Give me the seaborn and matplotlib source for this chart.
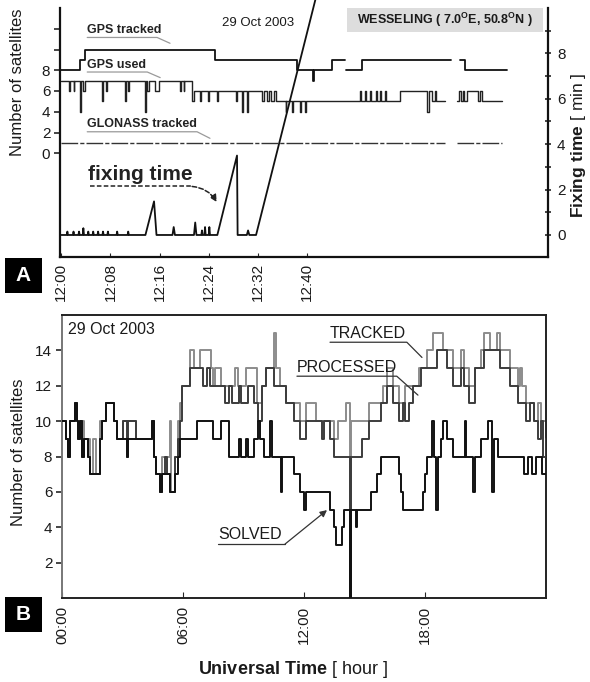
import numpy as np
import pandas as pd
import matplotlib
matplotlib.use('Agg')
import matplotlib.pyplot as plt
import seaborn as sns
from matplotlib.patches import Rectangle

# ---------------- Panel A : minutes after 12:00 UT ----------------
# GPS tracked (left axis, satellites), three pieces with data gaps
gps_tracked_1 = [(0, 8), (3.1, 9), (3.8, 10), (25.0, 9), (38.4, 8), (41.0, 7), (41.2, 8), (44.1, 9), (46.1, 9)]
gps_tracked_2 = [(46.3, 8), (49.0, 9), (63.4, 9)]
gps_tracked_3 = [(64.9, 9), (65.7, 8), (72.5, 8)]

# GPS used (left axis)
gps_used_1 = [(0, 7), (1.2, 6), (1.35, 7), (2.0, 6), (2.15, 7), (3.1, 4), (3.25, 7), (3.6, 6), (3.9, 7),
              (6.6, 5), (6.75, 7), (7.3, 6), (7.5, 7), (10.4, 5), (10.55, 7), (10.9, 6), (11.1, 7),
              (13.7, 4), (13.85, 7), (14.0, 6), (14.2, 7), (15.3, 6), (15.9, 7), (19.3, 6), (19.45, 7),
              (19.9, 6), (20.05, 7), (21.2, 5), (21.6, 6), (22.6, 5), (22.75, 6), (23.9, 5), (24.05, 6),
              (25.4, 5), (25.55, 6), (28.4, 5), (28.55, 6), (29.4, 4), (29.55, 6), (30.2, 4), (30.35, 6),
              (32.6, 5), (33.0, 6), (33.4, 5), (33.8, 6), (34.2, 5), (34.6, 6), (35.0, 5), (36.5, 4),
              (36.65, 5), (37.6, 4), (37.75, 5), (38.8, 4), (38.95, 5), (39.6, 4), (39.75, 5), (48.6, 6),
              (48.8, 5), (49.4, 6), (49.6, 5), (50.2, 6), (50.4, 5), (51.2, 6), (51.4, 5), (51.8, 6),
              (52.0, 5), (52.6, 6), (52.8, 5), (55.1, 6), (59.5, 4), (59.8, 6), (60.3, 5), (60.8, 6),
              (61.0, 5), (62.4, 5)]
gps_used_2 = [(64.4, 5), (64.8, 6), (65.0, 5), (65.4, 6), (65.6, 5), (66.0, 6), (67.8, 5), (68.2, 6),
              (68.4, 5), (71.7, 5)]

# GLONASS tracked (left axis)
glonass_1 = [(0, 1), (62.4, 1)]
glonass_2 = [(64.4, 1), (71.7, 1)]

# fixing time (right axis, minutes)
fixing_time = [(0, 0), (0.9, 0), (1.0, 0.15), (1.1, 0), (1.9, 0), (2.0, 0.15), (2.1, 0), (2.8, 0),
               (2.9, 0.15), (3.0, 0), (3.5, 0), (3.6, 0.3), (3.7, 0), (4.3, 0), (4.4, 0.15), (4.5, 0),
               (5.1, 0), (5.2, 0.15), (5.3, 0), (5.9, 0), (6.0, 0.15), (6.1, 0), (6.7, 0), (6.8, 0.15),
               (6.9, 0), (7.5, 0), (7.6, 0.15), (7.7, 0), (9.0, 0), (9.1, 0.15), (9.2, 0), (10.8, 0),
               (10.9, 0.15), (11.0, 0), (13.7, 0), (15.1, 1.48), (15.5, 0), (18.1, 0), (18.3, 0.35),
               (18.5, 0), (21.6, 0), (21.8, 0.55), (22.0, 0), (22.8, 0), (22.9, 0.2), (23.0, 0),
               (23.3, 0), (23.4, 0.35), (23.5, 0), (24.0, 0), (24.1, 0.35), (24.2, 0), (25.4, 0),
               (28.6, 3.5), (28.7, 0), (30.2, 0), (30.4, 0.2), (30.6, 0), (31.7, 0), (42.5, 11.6)]

a_ticks = [0, 8, 16, 24, 32, 40]
a_ticklabels = ['12:00', '12:08', '12:16', '12:24', '12:32', '12:40']

# ---------------- Panel B : hours UT ----------------
b_tracked = [(0.0, 10), (0.2, 9), (0.4, 10), (0.65, 11), (0.75, 10), (1.1, 9), (1.4, 7), (1.55, 9), (1.7, 7),
             (1.9, 10), (2.2, 11), (2.6, 10), (2.75, 9), (3.0, 10), (3.65, 9), (4.45, 10), (4.55, 8),
             (4.65, 7), (4.85, 6), (4.95, 8), (5.35, 10), (5.4, 6), (5.6, 8), (5.75, 10), (5.85, 11),
             (5.95, 12), (6.35, 14), (6.55, 13), (6.85, 14), (7.4, 13), (7.5, 12), (7.6, 13), (7.9, 12),
             (8.6, 13), (8.75, 12), (9.1, 13), (9.65, 11), (9.9, 12), (10.1, 13), (10.5, 15), (10.6, 13),
             (10.8, 12), (11.1, 11), (11.8, 10), (12.1, 11), (12.6, 10), (13.5, 9), (13.7, 10), (14.1, 11),
             (14.27, 0), (14.32, 10), (15.2, 11), (15.9, 12), (16.1, 13), (16.4, 12), (16.7, 11), (17.0, 12),
             (17.7, 13), (18.1, 14), (18.4, 15), (18.9, 14), (19.4, 13), (19.8, 14), (19.95, 13), (20.2, 12),
             (20.5, 13), (20.8, 14), (20.95, 15), (21.2, 14), (21.55, 15), (21.7, 14), (22.2, 13), (22.6, 12),
             (22.7, 13), (22.8, 12), (23.0, 11), (23.4, 10), (23.6, 11), (23.75, 10), (24.0, 10)]
b_processed = [(0.0, 10), (0.2, 9), (0.3, 8), (0.4, 10), (0.65, 11), (0.75, 10), (0.8, 9), (0.9, 10), (1.0, 8),
               (1.1, 9), (1.3, 8), (1.4, 7), (1.9, 9), (2.0, 10), (2.2, 11), (2.6, 10), (2.75, 9), (3.0, 10),
               (3.2, 8), (3.25, 10), (3.65, 9), (4.45, 10), (4.55, 8), (4.65, 7), (4.85, 6), (4.95, 7),
               (5.1, 8), (5.2, 7), (5.35, 6), (5.6, 8), (5.75, 9), (5.85, 10), (5.95, 12), (6.35, 13),
               (7.0, 12), (7.2, 13), (7.35, 12), (8.1, 11), (8.3, 12), (8.45, 11), (8.8, 12), (8.9, 11),
               (9.2, 12), (9.5, 11), (9.7, 10), (9.9, 12), (10.1, 13), (10.5, 12), (11.1, 11), (11.5, 10),
               (11.8, 9), (12.1, 10), (12.9, 9), (13.0, 10), (13.3, 9), (13.5, 8), (14.27, 0), (14.32, 8),
               (14.9, 9), (15.2, 10), (15.8, 11), (16.1, 12), (16.4, 11), (16.7, 10), (16.9, 11), (17.0, 10),
               (17.2, 11), (17.4, 12), (17.8, 13), (18.6, 14), (19.1, 13), (19.4, 12), (19.8, 13), (19.95, 12),
               (20.2, 11), (20.5, 13), (20.95, 14), (21.7, 13), (22.2, 12), (22.6, 11), (23.0, 10), (23.2, 11),
               (23.4, 10), (23.6, 9), (23.75, 10), (23.85, 8), (24.0, 9)]
b_solved = [(0.0, 10), (0.2, 9), (0.3, 8), (0.4, 10), (0.65, 11), (0.75, 10), (0.8, 9), (0.9, 10), (1.0, 8),
            (1.1, 9), (1.3, 8), (1.4, 7), (1.9, 9), (2.0, 10), (2.2, 11), (2.6, 10), (2.75, 9), (3.2, 8),
            (3.25, 9), (4.45, 10), (4.55, 8), (4.65, 7), (4.85, 6), (4.95, 7), (5.35, 6), (5.6, 7), (5.75, 8),
            (5.85, 9), (6.7, 10), (7.5, 9), (7.9, 10), (8.3, 8), (8.8, 9), (8.9, 8), (9.1, 9), (9.2, 8),
            (9.5, 9), (9.7, 10), (9.8, 9), (10.0, 8), (10.3, 10), (10.4, 8), (10.85, 6), (10.9, 8), (11.5, 7),
            (11.8, 6), (12.0, 5), (12.1, 6), (13.3, 5), (13.5, 4), (13.6, 3), (13.9, 4), (14.0, 5), (14.27, 0),
            (14.32, 5), (14.6, 4), (14.65, 5), (15.3, 6), (15.6, 7), (15.8, 8), (16.7, 7), (16.8, 6), (16.9, 5),
            (17.9, 6), (18.0, 7), (18.1, 8), (18.35, 10), (18.45, 8), (18.55, 5), (18.65, 8), (18.8, 9),
            (18.9, 10), (19.1, 9), (19.4, 8), (20.0, 10), (20.05, 8), (20.4, 6), (20.5, 8), (20.8, 9), (21.1, 10),
            (21.3, 6), (21.4, 9), (21.6, 8), (22.9, 7), (23.1, 8), (23.3, 7), (23.5, 8), (23.8, 7), (24.0, 7)]

b_ticks = [0, 6, 12, 18]
b_ticklabels = ['00:00', '06:00', '12:00', '18:00']

# ---------------- style ----------------
sns.set_style('ticks')
plt.rcParams['font.family'] = ['Liberation Sans', 'DejaVu Sans']
plt.rcParams['mathtext.fontset'] = 'custom'
plt.rcParams['mathtext.rm'] = 'Liberation Sans'
plt.rcParams['mathtext.bf'] = 'Liberation Sans:bold'
ink = '#1a1a1a'

W, H = 590, 682
fig = plt.figure( figsize = (W / 100, H / 100), dpi = 100 )


def px_box( l, t, r, b ) :
    """axes rectangle from pixel edges"""
    return [l / W, 1 - b / H, (r - l) / W, (b - t) / H]


def draw( ax, pts, color, lw = 1.1, ls = '-', style = 'steps-post', z = 2 ) :
    """draw one piece of a series with seaborn"""
    df = pd.DataFrame( pts, columns = ['t', 'v'] )
    sns.lineplot( data = df, x = 't', y = 'v', ax = ax, color = color, linewidth = lw, linestyle = ls,
                  estimator = None, sort = False, drawstyle = style, zorder = z )


axA = fig.add_axes( px_box( 60, 8, 548, 257 ) )
axF = axA.twinx()
axB = fig.add_axes( px_box( 62, 315, 546, 598 ) )

# ---- panel A lines ----
for seg in [gps_tracked_1, gps_tracked_2, gps_tracked_3] :
    draw( axA, seg, '#111111', lw = 1.3 )
for seg in [gps_used_1, gps_used_2] :
    draw( axA, seg, '#222222', lw = 1.0 )
for seg in [glonass_1, glonass_2] :
    draw( axA, seg, '#333333', lw = 1.0, ls = (0, (12, 1.5, 3, 1.5)) )
draw( axF, fixing_time, '#111111', lw = 1.3, style = 'default' )
axF.lines[-1].set_clip_on( False )

axA.set_xlim( -0.2, 79.2 )
axA.set_ylim( -10, 14 )
axF.set_ylim( -0.97, 10.0 )
axA.set_xlabel( '' )
axF.set_xlabel( '' )

axA.set_xticks( a_ticks )
axA.set_xticklabels( a_ticklabels, rotation = 90, fontsize = 11, color = ink )
axA.tick_params( axis = 'x', direction = 'in', length = 3, pad = 4 )
axA.set_yticks( [0, 2, 4, 6, 8, 10, 12] )
axA.set_yticklabels( ['0', '2', '4', '6', '8', '', ''], fontsize = 11, color = ink )
axA.tick_params( axis = 'y', direction = 'out', length = 4, width = 1.2, pad = 3 )
axA.set_ylabel( 'Number of satellites', fontsize = 12, color = ink )
axA.yaxis.set_label_coords( -0.071, 0.70 )

axF.set_yticks( [0, 2, 4, 6, 8] )
axF.set_yticks( [1, 3, 5, 7, 9], minor = True )
axF.set_yticklabels( ['0', '2', '4', '6', '8'], fontsize = 11, color = ink )
axF.tick_params( axis = 'y', which = 'both', direction = 'inout', length = 5, width = 1.2, pad = 4 )
axF.set_ylabel( r'$\mathbf{Fixing\ time}$ [ min ]', fontsize = 12.5, color = ink )
axF.yaxis.set_label_coords( 1.043, 0.45 )

for s in ['top'] :
    axA.spines[s].set_visible( False )
    axF.spines[s].set_visible( False )
axA.spines['right'].set_visible( False )
axF.spines['left'].set_visible( False )
axF.spines['bottom'].set_visible( False )
for sp in [axA.spines['left'], axA.spines['bottom'], axF.spines['right']] :
    sp.set_linewidth( 1.6 )
    sp.set_color( '#111111' )

# annotations panel A
lab = dict( fontsize = 9, fontweight = 'bold', color = '#222222' )
axA.text( 4.23, 11.3, 'GPS tracked', va = 'bottom', **lab )
axA.plot( [4.23, 15.6, 17.7], [11.16, 11.16, 10.6], color = '#9a9a9a', lw = 0.9 )
axA.text( 4.23, 7.95, 'GPS used', va = 'bottom', **lab )
axA.plot( [4.23, 14.0, 16.1], [7.83, 7.83, 7.29], color = '#9a9a9a', lw = 0.9 )
axA.text( 4.23, 2.2, 'GLONASS tracked', va = 'bottom', **lab )
axA.plot( [4.23, 22.1, 24.2], [2.07, 2.07, 1.44], color = '#9a9a9a', lw = 0.9 )
axA.text( 4.39, -2.6, 'fixing time', va = 'baseline', fontsize = 15, fontweight = 'bold', color = '#222222' )
axA.plot( [4.72, 21.3], [-3.2, -3.2], color = '#222222', lw = 1.1, ls = (0, (3, 1.5)) )
axA.annotate( '', xy = (25.3, -4.7), xytext = (21.3, -3.2),
              arrowprops = dict( arrowstyle = '-|>', color = '#222222', lw = 1.1, ls = (0, (3, 1.5)),
                                 connectionstyle = 'arc3,rad=-0.25', mutation_scale = 10, shrinkA = 0, shrinkB = 0 ) )
axA.text( 26.2, 13.1, '29 Oct 2003', va = 'top', fontsize = 9.5, color = ink )
axA.add_patch( Rectangle( (0.588, 0.904), 0.402, 0.096, transform = axA.transAxes, facecolor = '#dddddd',
                          edgecolor = 'none', zorder = 1 ) )
axA.text( 0.789, 0.952, r'WESSELING ( 7.0$^{\mathbf{O}}$E, 50.8$^{\mathbf{O}}$N )', transform = axA.transAxes,
          ha = 'center', va = 'center', fontsize = 9, fontweight = 'bold', color = ink, zorder = 3 )

# ---- panel B lines ----
draw( axB, b_tracked, '#8c8c8c', lw = 1.4, z = 2 )
draw( axB, b_processed, '#3c3c3c', lw = 1.4, z = 3 )
draw( axB, b_solved, '#111111', lw = 1.4, z = 4 )

axB.set_xlim( 0, 24 )
axB.set_ylim( 0, 16 )
axB.set_xlabel( '' )
axB.set_xticks( b_ticks )
axB.set_xticklabels( b_ticklabels, rotation = 90, fontsize = 11, color = ink )
axB.tick_params( axis = 'x', direction = 'in', length = 4, pad = 6 )
axB.set_yticks( [2, 4, 6, 8, 10, 12, 14] )
axB.set_yticklabels( ['2', '4', '6', '8', '10', '12', '14'], fontsize = 11, color = ink )
axB.tick_params( axis = 'y', direction = 'out', length = 4, width = 1.2, pad = 3 )
axB.set_ylabel( 'Number of satellites', fontsize = 12, color = ink )
axB.yaxis.set_label_coords( -0.074, 0.516 )
for s in ['top', 'right', 'bottom', 'left'] :
    axB.spines[s].set_visible( True )
    axB.spines[s].set_linewidth( 1.4 )
    axB.spines[s].set_color( '#222222' )
axB.spines['left'].set_color( '#777777' )

blab = dict( fontsize = 11.5, color = ink )
axB.text( 0.3, 15.6, '29 Oct 2003', va = 'top', **blab )
axB.text( 13.29, 14.55, 'TRACKED', va = 'bottom', **blab )
axB.plot( [13.29, 17.1, 17.85], [14.46, 14.46, 13.6], color = '#333333', lw = 0.9 )
axB.text( 11.65, 12.62, 'PROCESSED', va = 'bottom', **blab )
axB.plot( [11.65, 16.6, 17.65], [12.54, 12.54, 11.47], color = '#333333', lw = 0.9 )
axB.text( 7.73, 3.15, 'SOLVED', va = 'bottom', **blab )
axB.plot( [7.73, 11.06], [3.05, 3.05], color = '#333333', lw = 0.9 )
axB.annotate( '', xy = (13.14, 4.97), xytext = (11.06, 3.05),
              arrowprops = dict( arrowstyle = '-|>', color = '#333333', lw = 0.9, mutation_scale = 10,
                                 shrinkA = 0, shrinkB = 0 ) )

# ---- figure level labels ----
fig.text( 293 / W, 1 - 670 / H, r'$\mathbf{Universal\ Time}$ [ hour ]', ha = 'center', va = 'center',
          fontsize = 13, color = ink )
for letter, top in [('A', 258), ('B', 597)] :
    fig.add_artist( Rectangle( (5 / W, 1 - (top + 35) / H), 37 / W, 35 / H, transform = fig.transFigure,
                               facecolor = 'black', edgecolor = 'none' ) )
    fig.text( 23.5 / W, 1 - (top + 17.5) / H, letter, ha = 'center', va = 'center', fontsize = 15,
              fontweight = 'bold', color = 'white' )

fig.savefig( 'out.png', dpi = 100 )
